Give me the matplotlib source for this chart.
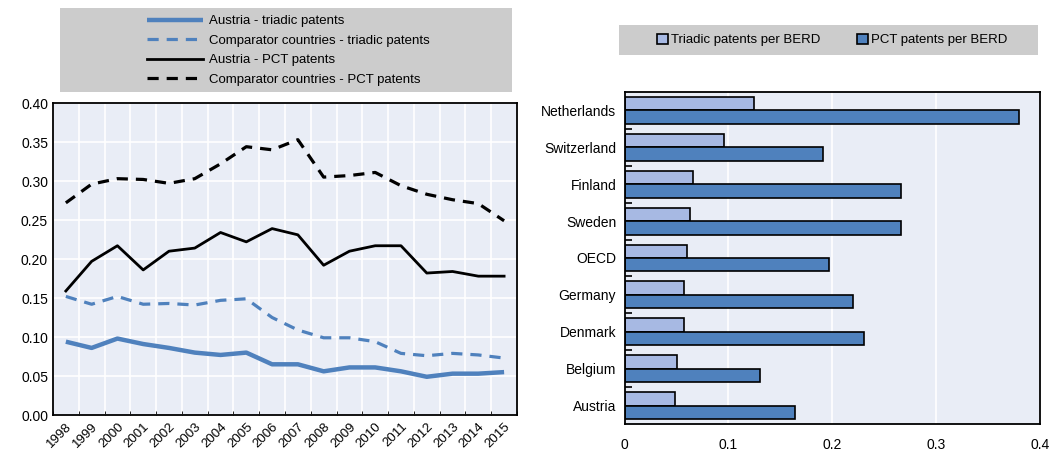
import numpy as np
import matplotlib
matplotlib.use("Agg")
import matplotlib.pyplot as plt
from matplotlib.patches import Rectangle, Patch

plt.rcParams['font.family'] = ['Liberation Sans Narrow', 'Liberation Sans', 'DejaVu Sans']

# ---- data ----
years = [str(y) for y in range(1998, 2016)]
austria_triadic = [0.094, 0.086, 0.098, 0.091, 0.086, 0.080, 0.077, 0.080, 0.065,
                   0.065, 0.056, 0.061, 0.061, 0.056, 0.049, 0.053, 0.053, 0.055]
comp_triadic = [0.152, 0.142, 0.152, 0.142, 0.143, 0.141, 0.147, 0.149, 0.125,
                0.109, 0.099, 0.099, 0.094, 0.079, 0.076, 0.079, 0.077, 0.073]
austria_pct = [0.159, 0.197, 0.217, 0.186, 0.210, 0.214, 0.234, 0.222, 0.239,
               0.231, 0.192, 0.210, 0.217, 0.217, 0.182, 0.184, 0.178, 0.178]
comp_pct = [0.272, 0.296, 0.303, 0.302, 0.297, 0.303, 0.322, 0.344, 0.340,
            0.353, 0.305, 0.307, 0.311, 0.294, 0.283, 0.276, 0.271, 0.249]

countries = ["Netherlands", "Switzerland", "Finland", "Sweden", "OECD",
             "Germany", "Denmark", "Belgium", "Austria"]
triadic_berd = [0.125, 0.096, 0.066, 0.063, 0.060, 0.057, 0.057, 0.051, 0.049]
pct_berd = [0.380, 0.191, 0.266, 0.266, 0.197, 0.220, 0.231, 0.130, 0.164]

blue = "#4F81BD"
light_blue = "#A7B9E3"
bg = "#E9EDF6"
legend_bg = "#CCCCCC"

fig = plt.figure(figsize=(10.51, 4.54), dpi=100)

# ---- left panel: lines ----
ax1 = fig.add_axes([0.0504, 0.0859, 0.4415, 0.6872])
ax1.set_facecolor(bg)
x = np.arange(len(years))
l1, = ax1.plot(x, austria_triadic, color=blue, lw=3.2, solid_capstyle='butt',
               label="Austria - triadic patents")
l2, = ax1.plot(x, comp_triadic, color=blue, lw=2.3, dashes=(3.5, 2.5),
               label="Comparator countries - triadic patents")
l3, = ax1.plot(x, austria_pct, color="black", lw=2.0,
               label="Austria - PCT patents")
l4, = ax1.plot(x, comp_pct, color="black", lw=2.3, dashes=(3.5, 2.5),
               label="Comparator countries - PCT patents")
ax1.set_xlim(-0.5, len(years) - 0.5)
ax1.set_ylim(0, 0.40)
ax1.set_yticks(np.arange(0, 0.41, 0.05))
ax1.set_yticklabels([f"{v:.2f}" for v in np.arange(0, 0.41, 0.05)])
ax1.set_xticks(x)
ax1.set_xticklabels(years, rotation=45, ha='right', rotation_mode='anchor')
ax1.set_xticks(np.arange(-0.5, len(years), 1.0), minor=True)
ax1.tick_params(axis='x', which='major', length=0, pad=4, labelsize=9.5)
ax1.tick_params(axis='x', which='minor', length=3, direction='in')
ax1.tick_params(axis='y', length=0, labelsize=10)
ax1.grid(True, which='minor', axis='x', color='white', lw=1.2)
ax1.grid(True, which='major', axis='y', color='white', lw=1.2)
ax1.set_axisbelow(True)
for s in ax1.spines.values():
    s.set_linewidth(1.3)

fig.patches.append(Rectangle((0.0571, 0.7974), 0.430, 0.185, transform=fig.transFigure,
                             facecolor=legend_bg, edgecolor='none', zorder=0))
fig.legend(handles=[l1, l2, l3, l4], loc='center', bbox_to_anchor=(0.274, 0.889),
           frameon=False, fontsize=9.5, handlelength=4.3, handletextpad=0.4,
           labelspacing=0.55, borderpad=0)

# ---- right panel: bars ----
ax2 = fig.add_axes([0.5942, 0.0661, 0.3953, 0.7313])
ax2.set_facecolor(bg)
y = np.arange(len(countries))
h = 0.365
ax2.barh(y - h / 2, triadic_berd, height=h, color=light_blue, edgecolor='black', lw=1.2,
         label="Triadic patents per BERD")
ax2.barh(y + h / 2, pct_berd, height=h, color=blue, edgecolor='black', lw=1.2,
         label="PCT patents per BERD")
ax2.set_ylim(len(countries) - 0.5, -0.5)
ax2.set_xlim(0, 0.4)
ax2.set_yticks(y)
ax2.set_yticklabels(countries)
ax2.set_yticks(np.arange(0.5, len(countries) - 1, 1.0), minor=True)
ax2.tick_params(axis='y', which='major', length=0, labelsize=10, pad=6)
ax2.tick_params(axis='y', which='minor', length=5, direction='in', width=1.2)
ax2.set_xticks([0, 0.1, 0.2, 0.3, 0.4])
ax2.set_xticklabels(["0", "0.1", "0.2", "0.3", "0.4"])
ax2.tick_params(axis='x', length=0, labelsize=10, pad=10)
ax2.grid(True, axis='x', color='white', lw=1.2)
ax2.set_axisbelow(True)
for s in ax2.spines.values():
    s.set_linewidth(1.3)

fig.patches.append(Rectangle((0.589, 0.8789), 0.3985, 0.0661, transform=fig.transFigure,
                             facecolor=legend_bg, edgecolor='none', zorder=0))
handles = [Patch(facecolor=light_blue, edgecolor='black', lw=1.2, label="Triadic patents per BERD"),
           Patch(facecolor=blue, edgecolor='black', lw=1.2, label="PCT patents per BERD")]
fig.legend(handles=handles, loc='center', bbox_to_anchor=(0.792, 0.912), ncol=2,
           frameon=False, fontsize=9.5, handlelength=0.8, handleheight=0.8,
           handletextpad=0.25, columnspacing=2.8, borderpad=0)

fig.savefig("out.png", dpi=100)
